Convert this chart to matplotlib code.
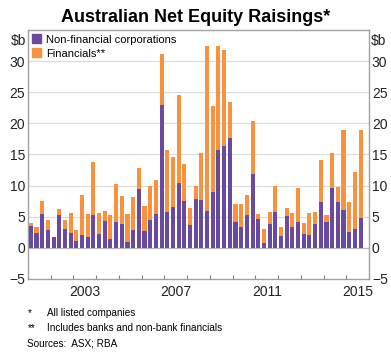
import numpy as np
import matplotlib
matplotlib.use("Agg")
import matplotlib.pyplot as plt
from matplotlib.patches import Patch

plt.rcParams['font.family'] = ['Liberation Sans', 'DejaVu Sans']

# quarterly, 2001Q1 .. 2015Q3 ($b)
non_financial = [3.5, 2.4, 5.4, 2.8, 1.7, 5.2, 3.1, 2.45, 1.1, 2.0,
                 1.7, 5.3, 2.3, 4.3, 1.4, 4.2, 3.8, 1.0, 2.9, 9.5,
                 2.7, 4.5, 5.5, 23.0, 5.8, 6.6, 10.5, 7.5, 3.7, 7.9,
                 7.7, 5.9, 8.95, 15.7, 16.4, 17.7, 4.2, 3.4, 5.2, 11.8,
                 4.7, 0.75, 3.9, 5.8, 1.9, 5.1, 3.4, 4.2, 2.3, 2.0,
                 3.8, 7.35, 4.2, 9.6, 7.35, 6.1, 2.6, 3.1, 4.8]
total = [4.0, 3.3, 7.6, 4.5, 1.8, 6.3, 4.4, 5.6, 2.8, 8.5,
         5.5, 13.85, 5.6, 5.9, 5.2, 10.3, 8.3, 5.4, 8.1, 12.9,
         6.7, 9.9, 10.9, 31.2, 15.8, 14.6, 24.6, 13.4, 6.4, 10.0,
         15.2, 32.5, 22.8, 32.4, 31.8, 23.4, 7.1, 7.1, 8.5, 20.3,
         5.4, 3.1, 5.75, 9.9, 3.35, 6.4, 5.6, 9.6, 4.0, 5.65,
         5.75, 14.1, 5.3, 15.2, 9.75, 19.0, 7.4, 12.25, 18.9]
financials = [t - n for t, n in zip(total, non_financial)]
start_year = 2001
year_labels = [2003, 2007, 2011, 2015]

purple = '#6A4A9E'
orange = '#F8923E'

x = start_year + 0.125 + 0.25 * np.arange(len(total))

fig = plt.figure(figsize=(3.91, 3.57), dpi=100)
ax = fig.add_axes([0.0716, 0.2185, 0.8724, 0.6975])

ax.bar(x, non_financial, width=0.18, color=purple, zorder=3)
ax.bar(x, financials, bottom=non_financial, width=0.18, color=orange, zorder=3)

ax.set_xlim(2001, 2016)
ax.set_ylim(-5, 35)
ax.set_yticks(range(-5, 31, 5))
for v in range(5, 31, 5):
    ax.axhline(v, color='#dcdcdc', lw=0.9, zorder=1)
ax.axhline(0, color='#b8b8b8', lw=0.9, zorder=1)

ax.tick_params(axis='y', length=0, labelsize=10, pad=2, labelcolor='#222222',
               left=True, right=True, labelleft=True, labelright=True)
ax.set_xticks(range(2002, 2016))
ax.set_xticklabels([])
ax.tick_params(axis='x', direction='in', length=3, color='#808080', width=0.8)
for yr in year_labels:
    ax.text(yr + 0.5, -0.025, str(yr), transform=ax.get_xaxis_transform(),
            ha='center', va='top', fontsize=10, color='#222222')

for s in ax.spines.values():
    s.set_color('#a0a0a0')
    s.set_linewidth(1.0)

ax.text(-0.005, 0.985, '$b', transform=ax.transAxes, ha='right', va='top',
        fontsize=10, color='#222222')
ax.text(1.005, 0.985, '$b', transform=ax.transAxes, ha='left', va='top',
        fontsize=10, color='#222222')

handles = [Patch(color=purple, label='Non-financial corporations'),
           Patch(color=orange, label='Financials**')]
ax.legend(handles=handles, loc='upper left', frameon=False, fontsize=8,
          handlelength=0.8, handleheight=0.8, handletextpad=0.4,
          borderaxespad=0.2, labelspacing=0.35, borderpad=0.2)

fig.text(0.5, 0.95, 'Australian Net Equity Raisings*', ha='center', va='center',
         fontsize=13, fontweight='bold')

fs = 7.2
fig.text(28 / 391, 1 - 313 / 357, '*', fontsize=fs, va='center')
fig.text(47 / 391, 1 - 313 / 357, 'All listed companies', fontsize=fs, va='center')
fig.text(28 / 391, 1 - 328 / 357, '**', fontsize=fs, va='center')
fig.text(47 / 391, 1 - 328 / 357, 'Includes banks and non-bank financials', fontsize=fs, va='center')
fig.text(27 / 391, 1 - 343 / 357, 'Sources:  ASX; RBA', fontsize=fs, va='center')

fig.savefig('out.png', dpi=100)
